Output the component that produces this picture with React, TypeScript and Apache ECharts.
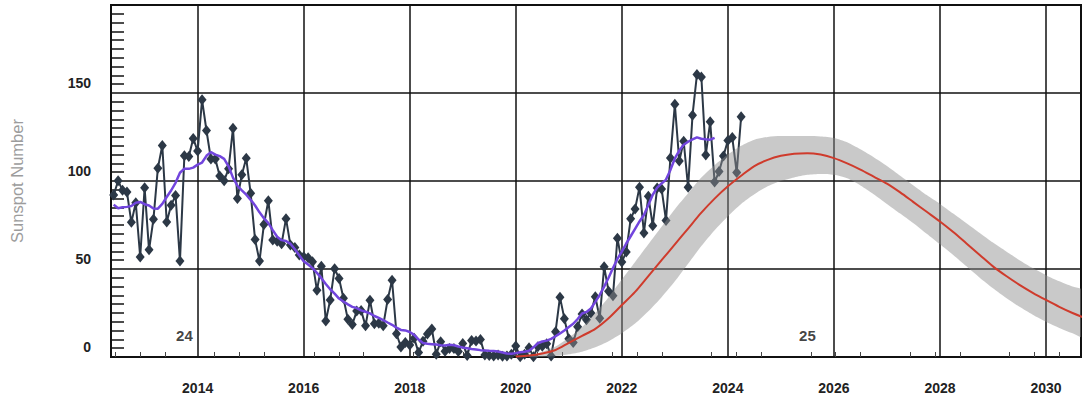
import React, { useEffect, useRef } from "react";
import * as echarts from "echarts";

// Monthly mean sunspot number, starting June 2012 (one value per month)
const monthlyStartYear = 2012;
const monthlyStartMonth = 6;
const monthlySSN = [
  92.0, 100.1, 94.8, 93.7, 76.5, 87.6, 56.8,
  96.1, 60.9, 78.3, 107.3, 120.2, 76.7, 86.2, 91.8, 54.5, 114.4, 113.9, 124.2,
  117.0, 146.1, 128.7, 112.5, 112.5, 102.9, 100.2, 106.9, 130.0, 90.0, 103.6, 112.9,
  93.0, 66.7, 54.5, 75.3, 88.8, 66.5, 65.8, 64.4, 78.6, 63.6, 62.2, 58.0,
  57.0, 56.4, 54.1, 37.9, 51.5, 20.5, 32.4, 50.2, 44.6, 33.4, 21.4, 18.5,
  26.1, 26.4, 17.7, 32.3, 18.9, 19.2, 17.8, 32.6, 43.6, 13.2, 5.7, 8.2,
  6.8, 10.7, 2.5, 8.9, 13.1, 15.9, 1.6, 8.7, 3.3, 4.9, 4.9, 3.1,
  7.7, 0.8, 9.4, 9.1, 9.9, 1.2, 0.9, 0.5, 1.1, 0.4, 0.5, 1.5,
  6.2, 0.2, 1.5, 5.2, 0.2, 5.8, 6.1, 7.5, 0.6, 14.4, 34.0, 21.8,
  10.4, 8.2, 17.2, 24.5, 21.2, 25.0, 34.3, 22.0, 51.3, 37.4, 34.8, 67.5,
  54.0, 59.7, 78.5, 84.1, 96.5, 70.5, 91.4, 74.6, 96.0, 95.5, 77.6, 113.1,
  143.6, 111.3, 122.6, 96.4, 137.4, 160.5, 159.1, 114.8, 133.6, 99.4, 105.4, 114.2,
  123.0, 124.7, 104.9, 136.5,
];

// 13-month smoothed sunspot number, starting June 2012
const smoothedSSN = [
  86.6, 84.5, 85.1, 85.3, 85.8, 87.7, 88.1,
  86.8, 86.1, 84.4, 84.3, 87.0, 90.9, 94.6, 99.0, 104.7, 107.0, 106.9, 107.6,
  109.3, 110.5, 114.3, 116.4, 115.0, 114.1, 112.6, 108.3, 101.9, 97.3, 94.7, 92.2,
  89.3, 86.1, 82.2, 78.9, 76.1, 72.1, 68.3, 66.4, 65.9, 64.3, 61.2, 57.8,
  54.4, 52.5, 50.5, 47.8, 44.8, 41.5, 38.5, 36.0, 33.2, 31.5, 29.9, 28.5,
  27.8, 26.5, 25.7, 24.8, 23.3, 22.2, 21.0, 19.6, 18.3, 16.7, 15.4, 15.1,
  14.2, 12.6, 9.9, 7.9, 7.5, 7.3, 7.1, 6.7, 6.6, 6.9, 6.7, 6.0,
  5.4, 5.0, 4.6, 4.3, 3.9, 3.7, 3.5, 3.4, 3.1, 2.6, 2.0, 1.8,
  2.2, 2.7, 3.0, 3.6, 5.5, 7.8, 8.8, 9.3, 10.3, 11.8, 13.4, 15.1,
  17.1, 18.9, 21.6, 24.7, 25.6, 27.6, 31.3, 35.3, 40.0, 45.0, 50.6, 55.7,
  59.9, 64.5, 68.6, 72.8, 77.0, 80.7, 86.4, 92.2, 96.2, 98.6, 100.8, 106.3,
  112.8, 117.3, 120.6, 122.3, 123.6, 124.8, 124.0, 123.7, 123.5, 124.5,
];

// Predicted cycle 25 (quarterly)
const predYears = [
  2020.0, 2020.25, 2020.5, 2020.75, 2021.0, 2021.25, 2021.5, 2021.75,
  2022.0, 2022.25, 2022.5, 2022.75, 2023.0, 2023.25, 2023.5, 2023.75,
  2024.0, 2024.25, 2024.5, 2024.75, 2025.0, 2025.25, 2025.5, 2025.75,
  2026.0, 2026.25, 2026.5, 2026.75, 2027.0, 2027.25, 2027.5, 2027.75,
  2028.0, 2028.25, 2028.5, 2028.75, 2029.0, 2029.25, 2029.5, 2029.75,
  2030.0, 2030.25, 2030.5, 2030.75,
];
const predicted = [
  0.3, 0.8, 2, 4, 8, 12, 16, 22,
  29.5, 37, 46, 55, 64, 73, 82, 90,
  97, 103, 108.5, 112, 114.3, 115.5, 115.8, 115,
  113, 110, 106.5, 102.5, 98.5, 93.5, 88, 82.5,
  77, 71, 64.5, 58, 51.5, 46, 41, 36.5,
  32.4, 28.5, 25, 22,
];
const predHigh = [
  0.3, 1, 3, 6, 11, 17, 25, 34,
  44, 54, 64, 74, 84, 93, 102, 109,
  115, 120, 123.5, 125, 125.5, 125.5, 125.5, 125.3,
  124.5, 122, 118, 113.5, 108.5, 103, 97.5, 92,
  87, 81.5, 76, 70.5, 65, 60, 55, 50.5,
  46.5, 43, 40, 37,
];
const predLow = [
  0, 0, 0, 0.5, 1.5, 3, 5.5, 9,
  13.5, 19, 26, 34, 43, 53, 63, 72,
  80, 87, 92.5, 97, 100, 102, 103.5, 104,
  103.5, 101.5, 97.5, 92.5, 87, 81.5, 76, 70,
  64, 58, 51.5, 45, 39, 33.5, 28.5, 24,
  20, 16.5, 13.5, 11,
];

// Cycle labels
const cycleNames = ["24", "25"];
const cycleYears = [2013.75, 2025.5];
const cycleLevel = 12;

const FONT = "'Liberation Sans', Arial, Helvetica, sans-serif";

export default function App() {
  const ref = useRef<HTMLDivElement>(null);

  useEffect(() => {
    if (!ref.current) return;
    const chart = echarts.init(ref.current, undefined, { renderer: "svg" });

    const monthTime = (i: number) =>
      monthlyStartYear + (monthlyStartMonth - 1 + i) / 12;
    const monthlyPts = monthlySSN.map((v, i) => [monthTime(i), v]);
    const smoothPts = smoothedSSN.map((v, i) => [monthTime(i), v]);
    const predPts = predicted.map((v, i) => [predYears[i], v]);
    const bandRows = predYears.map((t, i) => [t, predLow[i], predHigh[i]]);
    const cyclePts = cycleNames.map((n, i) => [cycleYears[i], cycleLevel, n]);

    const xMin = 2012.366;
    const xMax = 2030.66;
    const pxPerYear = (1084 - 110) / (xMax - xMin);

    const option: any = {
      animation: false,
      backgroundColor: "#ffffff",
      textStyle: { fontFamily: FONT },
      grid: [
        {
          left: 110,
          right: 0,
          top: 5,
          bottom: 43,
          show: true,
          borderColor: "#111",
          borderWidth: 2,
          backgroundColor: "transparent",
        },
        {
          left: 110 - (xMin - 2012) * pxPerYear,
          right: -(2032 - xMax) * pxPerYear,
          top: 5,
          bottom: 43,
        },
      ],
      xAxis: [
        {
          type: "value",
          gridIndex: 0,
          min: xMin,
          max: xMax,
          minInterval: 2,
          maxInterval: 2,
          splitNumber: 9,
          axisLine: { show: true, lineStyle: { color: "#111", width: 2 } },
          axisTick: { show: false },
          axisLabel: {
            formatter: (v: number) =>
              Math.abs(v - Math.round(v)) < 1e-6 && Math.round(v) % 2 === 0
                ? String(Math.round(v))
                : "",
            fontWeight: "bold",
            fontSize: 14,
            color: "#222",
            margin: 24,
            fontFamily: FONT,
          },
          splitLine: { show: true, lineStyle: { color: "#111", width: 1.5 } },
        },
        {
          type: "value",
          gridIndex: 1,
          min: 2012,
          max: 2032,
          interval: 2,
          axisLine: { show: false },
          axisTick: { show: false, inside: true },
          axisLabel: { show: false },
          splitLine: { show: false },
          minorTick: {
            show: true,
            splitNumber: 4,
            length: 5,
            lineStyle: { color: "#444", width: 1 },
          },
        },
      ],
      yAxis: [
        {
          type: "value",
          gridIndex: 0,
          min: 0,
          max: 200,
          interval: 50,
          name: "Sunspot Number",
          nameLocation: "middle",
          nameGap: 86,
          nameTextStyle: { color: "#9c9c9c", fontSize: 16.5, fontFamily: FONT },
          axisLine: { show: true, lineStyle: { color: "#111", width: 2 } },
          axisTick: { show: false, inside: true },
          minorTick: {
            show: true,
            splitNumber: 10,
            length: 13,
            lineStyle: { color: "#111", width: 1.5 },
          },
          axisLabel: {
            formatter: (v: number) => (v >= 200 ? "" : String(v)),
            fontWeight: "bold",
            fontSize: 14,
            color: "#222",
            margin: 20,
            verticalAlign: "bottom",
            padding: [0, 0, 3, 0],
            fontFamily: FONT,
          },
          splitLine: { show: true, lineStyle: { color: "#111", width: 1.5 } },
        },
        {
          type: "value",
          gridIndex: 1,
          min: 0,
          max: 200,
          show: false,
        },
      ],
      series: [
        {
          name: "Monthly",
          type: "line",
          xAxisIndex: 0,
          yAxisIndex: 0,
          data: monthlyPts,
          symbol: "diamond",
          symbolSize: [9, 11],
          showSymbol: true,
          lineStyle: { color: "#2c3846", width: 2 },
          itemStyle: { color: "#2c3846" },
          z: 2,
        },
        {
          name: "Band",
          type: "custom",
          xAxisIndex: 0,
          yAxisIndex: 0,
          clip: true,
          data: bandRows,
          encode: { x: 0, y: [1, 2] },
          renderItem: (params: any, api: any) => {
            if (params.dataIndex !== 0) return null;
            const upper = bandRows.map((r) => api.coord([r[0], r[2]]));
            const lower = bandRows
              .slice()
              .reverse()
              .map((r) => api.coord([r[0], r[1]]));
            return {
              type: "polygon",
              shape: { points: upper.concat(lower), smooth: 0.25 },
              style: { fill: "rgba(140,140,140,0.47)", stroke: "none" },
              z2: 1,
            };
          },
          z: 3,
        },
        {
          name: "Smoothed",
          type: "line",
          data: smoothPts,
          symbol: "none",
          lineStyle: { color: "#7245dd", width: 2.5 },
          z: 4,
        },
        {
          name: "Predicted",
          type: "line",
          data: predPts,
          symbol: "none",
          smooth: 0.3,
          lineStyle: { color: "#cf3b2c", width: 2 },
          z: 5,
        },
        {
          name: "Cycles",
          type: "scatter",
          data: cyclePts,
          symbolSize: 0,
          label: {
            show: true,
            position: "inside",
            formatter: (p: any) => p.data[2],
            fontWeight: "bold",
            fontSize: 15,
            color: "#111",
            fontFamily: FONT,
          },
          z: 6,
        },
      ],
    };

    chart.setOption(option);
    return () => chart.dispose();
  }, []);

  return (
    <div
      ref={ref}
      style={{ position: "absolute", left: 0, top: 0, width: 1084, height: 400 }}
    />
  );
}
